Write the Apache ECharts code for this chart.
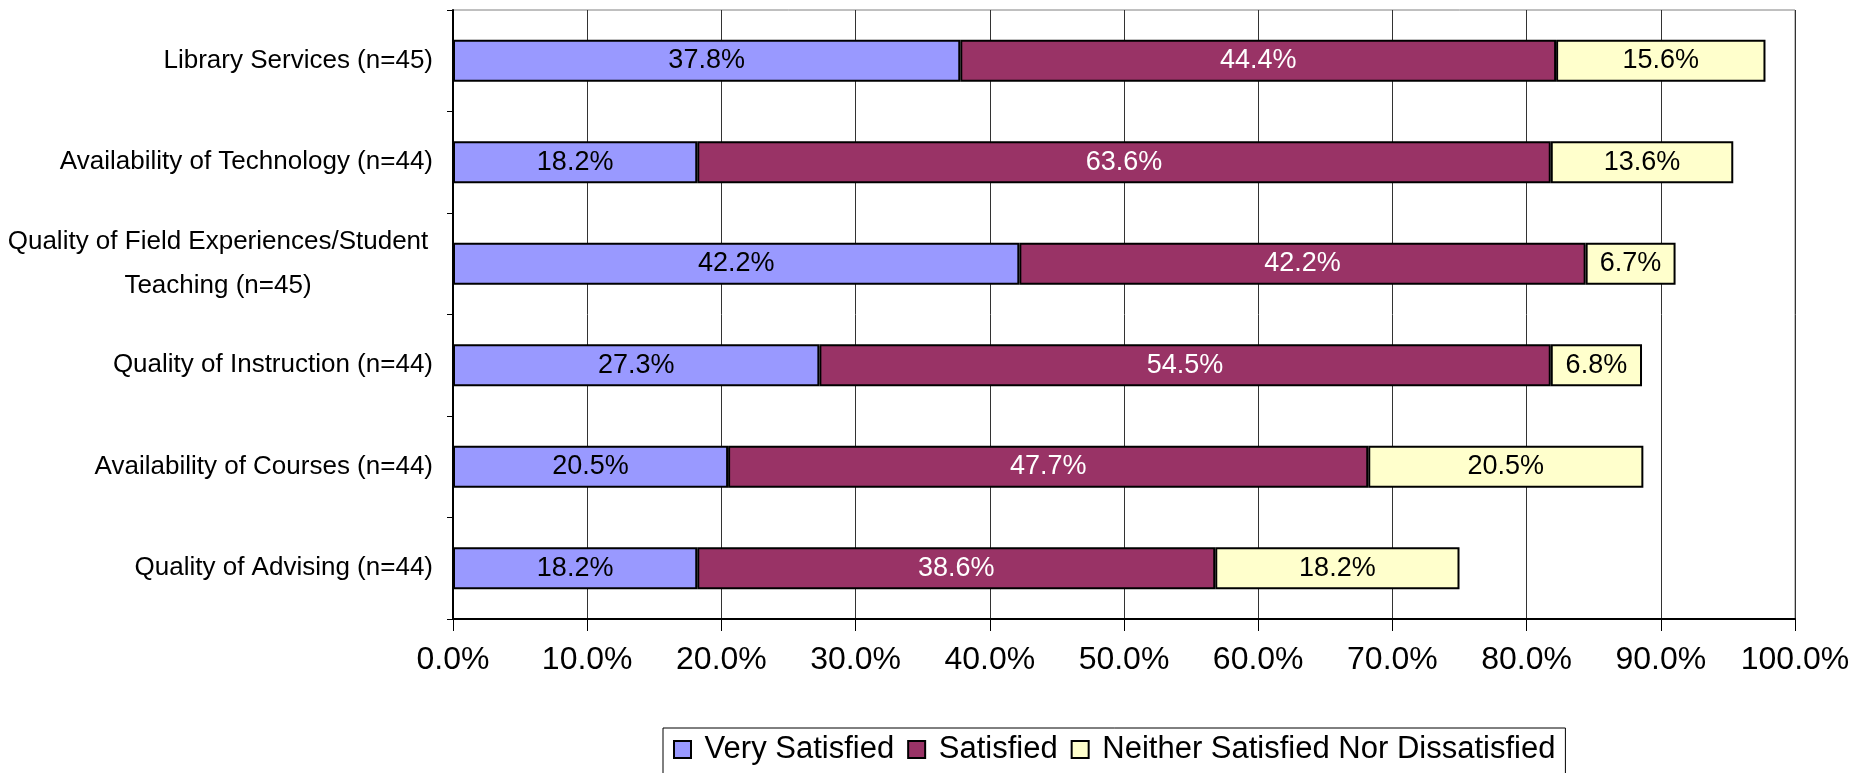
<!DOCTYPE html>
<html>
<head>
<meta charset="utf-8">
<script src="https://cdn.jsdelivr.net/npm/echarts@6/dist/echarts.min.js"></script>
<style>
  html, body { margin: 0; padding: 0; background: #fff; }
  #chart { width: 1866px; height: 773px; }
</style>
</head>
<body>
<div id="chart"></div>
<script>
// categories listed bottom -> top
var categories = [
  'Quality of Advising (n=44)',
  'Availability of Courses (n=44)',
  'Quality of Instruction (n=44)',
  'Quality of Field Experiences/Student\nTeaching (n=45)',
  'Availability of Technology (n=44)',
  'Library Services (n=45)'
];
var verySatisfied = [18.2, 20.5, 27.3, 42.2, 18.2, 37.8];
var satisfied = [38.6, 47.7, 54.5, 42.2, 63.6, 44.4];
var neither = [18.2, 20.5, 6.8, 6.7, 13.6, 15.6];
var seriesNames = ['Very Satisfied', 'Satisfied', 'Neither Satisfied Nor Dissatisfied'];

var font = 'Liberation Sans, Arial, sans-serif';

function pct(v) { return v.toFixed(1) + '%'; }

function barSeries(name, data, color, labelColor) {
  return {
    name: name,
    type: 'bar',
    stack: 'total',
    barWidth: 42,
    data: data,
    itemStyle: { color: color, borderColor: '#000', borderWidth: 2 },
    label: {
      show: true,
      position: 'inside',
      color: labelColor,
      fontFamily: font,
      fontSize: 27,
      formatter: function (p) { return pct(p.value); }
    }
  };
}

var chart = echarts.init(document.getElementById('chart'));
chart.setOption({
  backgroundColor: '#fff',
  animation: false,
  grid: {
    left: 452, right: 71, top: 10, bottom: 154,
    show: true, borderColor: '#808080', borderWidth: 1
  },
  legend: {
    data: seriesNames,
    left: 663,
    top: 728,
    icon: 'rect',
    itemWidth: 17,
    itemHeight: 17,
    itemGap: 13,
    padding: [6, 10, 10, 10],
    borderColor: '#000',
    borderWidth: 1,
    backgroundColor: '#fff',
    formatter: function (n) { return ' ' + n; },
    textStyle: { fontFamily: font, fontSize: 31, color: '#000' },
    itemStyle: { borderColor: '#000', borderWidth: 2 }
  },
  xAxis: {
    type: 'value',
    min: 0,
    max: 100,
    interval: 10,
    axisLine: { show: true, lineStyle: { color: '#000', width: 2 } },
    axisTick: { show: true, length: 12, lineStyle: { color: '#000', width: 1 } },
    splitLine: { show: true, lineStyle: { color: '#333', width: 1 } },
    axisLabel: {
      margin: 25,
      fontFamily: font,
      fontSize: 32,
      color: '#000',
      formatter: function (v) { return pct(v); }
    }
  },
  yAxis: {
    type: 'category',
    data: categories,
    axisLine: { show: true, lineStyle: { color: '#000', width: 2 } },
    axisTick: { show: true, length: 6, lineStyle: { color: '#000', width: 1 } },
    axisLabel: {
      margin: 20,
      fontFamily: font,
      fontSize: 26,
      color: '#000',
      lineHeight: 44,
      formatter: function (v) {
        if (v.indexOf('\n') >= 0) {
          return v.split('\n').map(function (s) { return '{c|' + s + '}'; }).join('\n');
        }
        return v;
      },
      rich: {
        c: { width: 430, align: 'center', fontFamily: font, fontSize: 26, color: '#000', lineHeight: 44 }
      }
    }
  },
  series: [
    barSeries(seriesNames[0], verySatisfied, '#9999FF', '#000'),
    barSeries(seriesNames[1], satisfied, '#993366', '#fff'),
    barSeries(seriesNames[2], neither, '#FFFFCC', '#000')
  ]
});
</script>
</body>
</html>
